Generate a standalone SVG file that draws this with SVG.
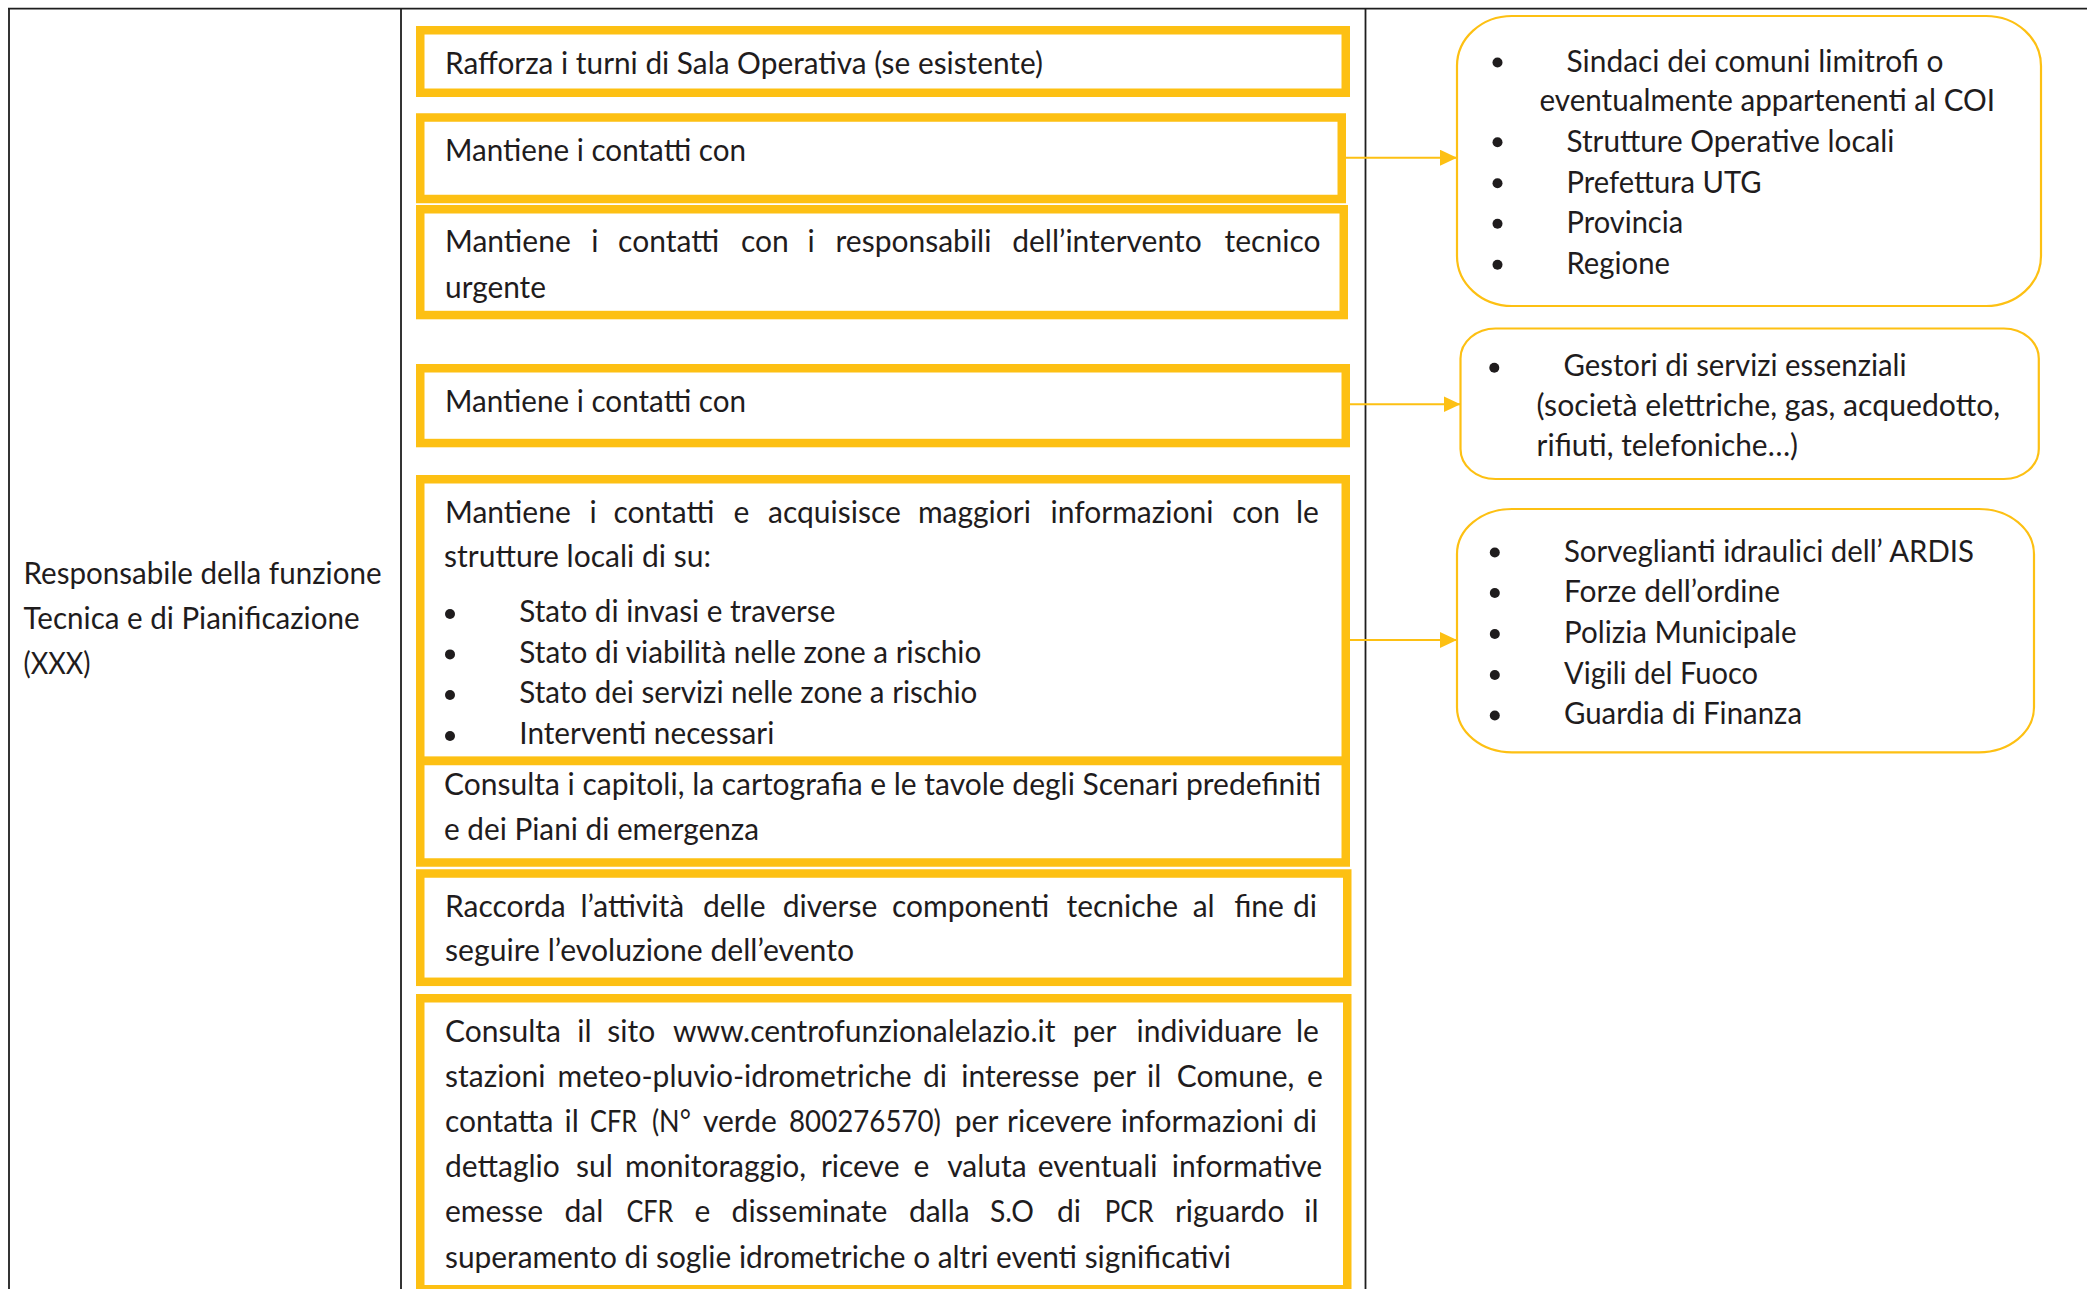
<svg xmlns="http://www.w3.org/2000/svg" width="2087" height="1289" viewBox="0 0 2087 1289">
<defs>
<style>
.t{font-family:Lato,"Liberation Sans",sans-serif;font-size:30px;fill:#1F1C1D}
.tbl{stroke:#1E1E1E;stroke-width:1.8;fill:none}
.box{fill:#FFFFFF;stroke:#FDC013;stroke-width:8.5}
.rbox{fill:#FFFFFF;stroke:#FDC013;stroke-width:2.2}
.conn{stroke:#FDC013;stroke-width:2;fill:none}
.dot{fill:#1F1C1D}
</style>
<marker id="ah" markerUnits="userSpaceOnUse" markerWidth="18" markerHeight="18" refX="17" refY="8" orient="auto">
<path d="M0,0 L17,8 L0,16 z" fill="#FDC013"/>
</marker>
</defs>
<rect width="2087" height="1289" fill="#FFFFFF"/>
<g id="table">
<line class="tbl" x1="8" y1="8.6" x2="2087" y2="8.6" stroke-width="2.2"/>
<line class="tbl" x1="9" y1="8" x2="9" y2="1289"/>
<line class="tbl" x1="401" y1="8" x2="401" y2="1289"/>
<line class="tbl" x1="1365.5" y1="8" x2="1365.5" y2="1289"/>
</g>
<g id="role">
<text class="t" x="23.5" y="584" textLength="358" lengthAdjust="spacingAndGlyphs">Responsabile della funzione</text>
<text class="t" x="23.5" y="629" textLength="336" lengthAdjust="spacingAndGlyphs">Tecnica e di Pianificazione</text>
<text class="t" x="23.5" y="673.5" textLength="67" lengthAdjust="spacingAndGlyphs">(XXX)</text>
</g>
<g id="connectors">
<line class="conn" x1="1346" y1="157.7" x2="1457" y2="157.7" marker-end="url(#ah)"/>
<line class="conn" x1="1350" y1="404.3" x2="1460.5" y2="404.3" marker-end="url(#ah)"/>
<line class="conn" x1="1350" y1="640" x2="1457" y2="640" marker-end="url(#ah)"/>
</g>
<g id="box1">
<rect class="box" x="420.25" y="30.25" width="925.5" height="62.5"/>
<text class="t" x="445" y="74" textLength="598" lengthAdjust="spacingAndGlyphs">Rafforza i turni di Sala Operativa (se esistente)</text>
</g>
<g id="box2">
<rect class="box" x="420.25" y="117.5" width="921.5" height="81.5"/>
<text class="t" x="445" y="161" textLength="301" lengthAdjust="spacingAndGlyphs">Mantiene i contatti con</text>
</g>
<g id="box3">
<rect class="box" x="420.25" y="209.25" width="923.5" height="105.8"/>
<text class="t" y="252.3"><tspan x="445">Mantiene</tspan><tspan x="591.3">i</tspan><tspan x="618.1">contatti</tspan><tspan x="741">con</tspan><tspan x="807.5">i</tspan><tspan x="835.5">responsabili</tspan><tspan x="1012.2">dell’intervento</tspan><tspan x="1224.6">tecnico</tspan></text>
<text class="t" x="445" y="297.5" textLength="101" lengthAdjust="spacingAndGlyphs">urgente</text>
</g>
<g id="box4">
<rect class="box" x="420.25" y="368.25" width="925.5" height="74.8"/>
<text class="t" x="445" y="411.7" textLength="301" lengthAdjust="spacingAndGlyphs">Mantiene i contatti con</text>
</g>
<g id="box5">
<rect class="box" x="420.25" y="479.25" width="925.5" height="281.5"/>
<text class="t" y="523.3"><tspan x="445">Mantiene</tspan><tspan x="589.5">i</tspan><tspan x="613.5">contatti</tspan><tspan x="733.5">e</tspan><tspan x="768">acquisisce</tspan><tspan x="917.9">maggiori</tspan><tspan x="1050.5">informazioni</tspan><tspan x="1232.3">con</tspan><tspan x="1296">le</tspan></text>
<text class="t" x="444" y="567.3" textLength="267" lengthAdjust="spacingAndGlyphs">strutture locali di su:</text>
<circle class="dot" cx="450" cy="614" r="5"/>
<circle class="dot" cx="450" cy="654.4" r="5"/>
<circle class="dot" cx="450" cy="695" r="5"/>
<circle class="dot" cx="450" cy="736" r="5"/>
<text class="t" x="519.3" y="622.3" textLength="316" lengthAdjust="spacingAndGlyphs">Stato di invasi e traverse</text>
<text class="t" x="519.3" y="662.7" textLength="462" lengthAdjust="spacingAndGlyphs">Stato di viabilità nelle zone a rischio</text>
<text class="t" x="519.3" y="703.3" textLength="458" lengthAdjust="spacingAndGlyphs">Stato dei servizi nelle zone a rischio</text>
<text class="t" x="519.3" y="744.3" textLength="255" lengthAdjust="spacingAndGlyphs">Interventi necessari</text>
</g>
<g id="box6">
<rect class="box" x="420.25" y="761" width="925.5" height="101.5"/>
<text class="t" x="444" y="795" textLength="877" lengthAdjust="spacingAndGlyphs">Consulta i capitoli, la cartografia e le tavole degli Scenari predefiniti</text>
<text class="t" x="444" y="840" textLength="315" lengthAdjust="spacingAndGlyphs">e dei Piani di emergenza</text>
</g>
<g id="box7">
<rect class="box" x="420.25" y="873.5" width="927" height="108.3"/>
<text class="t" y="916.7"><tspan x="445">Raccorda</tspan><tspan x="580.5">l’attività</tspan><tspan x="702.9">delle</tspan><tspan x="782.7">diverse</tspan><tspan x="892">componenti</tspan><tspan x="1066.5">tecniche</tspan><tspan x="1192.7">al</tspan><tspan x="1234.2">fine</tspan><tspan x="1292.9">di</tspan></text>
<text class="t" x="445" y="960.7" textLength="409" lengthAdjust="spacingAndGlyphs">seguire l’evoluzione dell’evento</text>
</g>
<g id="box8">
<rect class="box" x="420.25" y="998.25" width="927" height="291"/>
<text class="t" y="1041.5"><tspan x="445">Consulta</tspan><tspan x="577.3">il</tspan><tspan x="607.3">sito</tspan><tspan x="673">www.centrofunzionalelazio.it</tspan><tspan x="1072.8">per</tspan><tspan x="1136.6">individuare</tspan><tspan x="1296">le</tspan></text>
<text class="t" y="1086.5"><tspan x="445">stazioni</tspan><tspan x="557.5">meteo-pluvio-idrometriche</tspan><tspan x="923">di</tspan><tspan x="961.2">interesse</tspan><tspan x="1092.5">per</tspan><tspan x="1147">il</tspan><tspan x="1176.8">Comune,</tspan><tspan x="1306.9">e</tspan></text>
<text class="t" y="1131.5"><tspan x="445">contatta</tspan><tspan x="564.5">il</tspan><tspan x="590" textLength="47" lengthAdjust="spacingAndGlyphs">CFR</tspan><tspan x="651.9" textLength="39" lengthAdjust="spacingAndGlyphs">(N°</tspan><tspan x="702.9">verde</tspan><tspan x="789" textLength="152" lengthAdjust="spacingAndGlyphs">800276570)</tspan><tspan x="954.8">per</tspan><tspan x="1007.1">ricevere</tspan><tspan x="1120.7">informazioni</tspan><tspan x="1292.9">di</tspan></text>
<text class="t" y="1176.7"><tspan x="445">dettaglio</tspan><tspan x="576">sul</tspan><tspan x="625.1">monitoraggio,</tspan><tspan x="820.9">riceve</tspan><tspan x="913.4">e</tspan><tspan x="947.2">valuta</tspan><tspan x="1037.8">eventuali</tspan><tspan x="1171.7">informative</tspan></text>
<text class="t" y="1222.3"><tspan x="445">emesse</tspan><tspan x="564.5">dal</tspan><tspan x="626.4" textLength="47" lengthAdjust="spacingAndGlyphs">CFR</tspan><tspan x="694.6">e</tspan><tspan x="731.6">disseminate</tspan><tspan x="908.9">dalla</tspan><tspan x="989.9" textLength="44" lengthAdjust="spacingAndGlyphs">S.O</tspan><tspan x="1056.9">di</tspan><tspan x="1104.7" textLength="49" lengthAdjust="spacingAndGlyphs">PCR</tspan><tspan x="1174.9">riguardo</tspan><tspan x="1304.3">il</tspan></text>
<text class="t" x="445" y="1267.5" textLength="786" lengthAdjust="spacingAndGlyphs">superamento di soglie idrometriche o altri eventi significativi</text>
</g>
<g id="contacts1">
<rect class="rbox" x="1457" y="16" width="584" height="290" rx="55" ry="50"/>
<circle class="dot" cx="1497.5" cy="62.5" r="5"/>
<circle class="dot" cx="1497.5" cy="142.3" r="5"/>
<circle class="dot" cx="1497.5" cy="183.3" r="5"/>
<circle class="dot" cx="1497.5" cy="223.7" r="5"/>
<circle class="dot" cx="1497.5" cy="264.7" r="5"/>
<text class="t" x="1566.5" y="71.7" textLength="377" lengthAdjust="spacingAndGlyphs">Sindaci dei comuni limitrofi o</text>
<text class="t" x="1539.5" y="111" textLength="455.5" lengthAdjust="spacingAndGlyphs">eventualmente appartenenti al COI</text>
<text class="t" x="1566.5" y="151.7" textLength="328" lengthAdjust="spacingAndGlyphs">Strutture Operative locali</text>
<text class="t" x="1566.5" y="192.5" textLength="195" lengthAdjust="spacingAndGlyphs">Prefettura UTG</text>
<text class="t" x="1566.5" y="233" textLength="116.6" lengthAdjust="spacingAndGlyphs">Provincia</text>
<text class="t" x="1566.5" y="273.5" textLength="103.4" lengthAdjust="spacingAndGlyphs">Regione</text>
</g>
<g id="contacts2">
<rect class="rbox" x="1460.5" y="328.5" width="578.3" height="150.5" rx="35" ry="30"/>
<circle class="dot" cx="1494.3" cy="367.7" r="5"/>
<text class="t" x="1563.5" y="376" textLength="343" lengthAdjust="spacingAndGlyphs">Gestori di servizi essenziali</text>
<text class="t" x="1536.6" y="416" textLength="463.6" lengthAdjust="spacingAndGlyphs">(società elettriche, gas, acquedotto,</text>
<text class="t" x="1536.6" y="455.5" textLength="261.4" lengthAdjust="spacingAndGlyphs">rifiuti, telefoniche…)</text>
</g>
<g id="contacts3">
<rect class="rbox" x="1457" y="509" width="577" height="243.3" rx="55" ry="45"/>
<circle class="dot" cx="1494.8" cy="552.5" r="5"/>
<circle class="dot" cx="1494.8" cy="593" r="5"/>
<circle class="dot" cx="1494.8" cy="634" r="5"/>
<circle class="dot" cx="1494.8" cy="675" r="5"/>
<circle class="dot" cx="1494.8" cy="715.5" r="5"/>
<text class="t" x="1564" y="561.7" textLength="410" lengthAdjust="spacingAndGlyphs">Sorveglianti idraulici dell’ ARDIS</text>
<text class="t" x="1564" y="601.7" textLength="216" lengthAdjust="spacingAndGlyphs">Forze dell’ordine</text>
<text class="t" x="1564" y="643.3" textLength="232.7" lengthAdjust="spacingAndGlyphs">Polizia Municipale</text>
<text class="t" x="1564" y="684" textLength="194" lengthAdjust="spacingAndGlyphs">Vigili del Fuoco</text>
<text class="t" x="1564" y="724" textLength="238" lengthAdjust="spacingAndGlyphs">Guardia di Finanza</text>
</g>
</svg>
